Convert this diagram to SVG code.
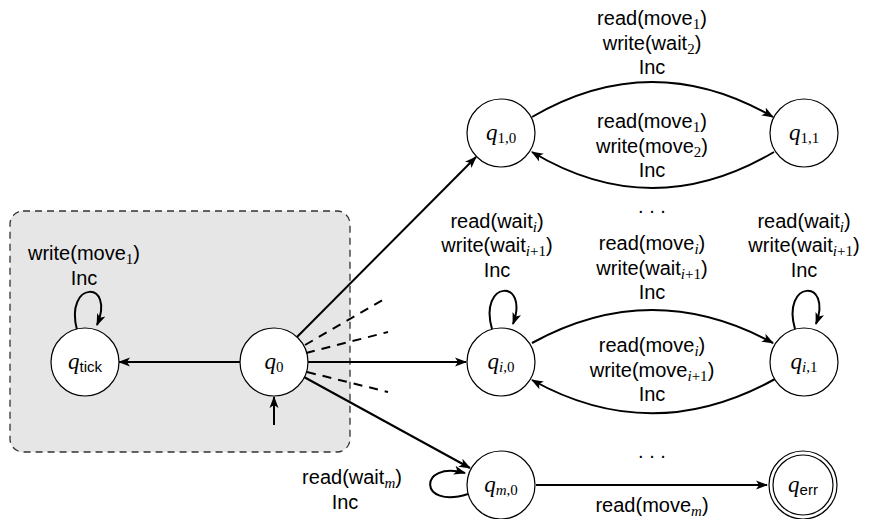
<svg xmlns="http://www.w3.org/2000/svg" width="870" height="519" viewBox="0 0 870 519">
<defs>
<marker id="ah" viewBox="0 0 12 10" refX="11" refY="5" markerWidth="12" markerHeight="10" markerUnits="userSpaceOnUse" orient="auto">
<path d="M0,0.5 L12,5 L0,9.5 L3,5 z" fill="#000"/>
</marker>
<style>
.st{fill:#fff;stroke:#000;stroke-width:1.2}
.ed{fill:none;stroke:#000;stroke-width:2;marker-end:url(#ah)}
.dash{fill:none;stroke:#000;stroke-width:2;stroke-dasharray:9,7}
.lb{font-family:"Liberation Sans",Arial,sans-serif;font-size:20px;text-anchor:middle;fill:#000}
.q{font-family:"Liberation Serif","Times New Roman",serif;font-size:23px;font-style:italic;text-anchor:middle;fill:#000}
.sn{font-family:"Liberation Serif",serif;font-style:normal}
.si{font-family:"Liberation Serif",serif;font-style:italic}
.ss{font-family:"Liberation Sans",sans-serif;font-style:normal}
</style>
</defs>
<rect x="10" y="211" width="340" height="241" rx="13" fill="#e6e6e6" stroke="#333" stroke-width="1.3" stroke-dasharray="7,5"/>
<g id="connectors">
<path class="ed" d="M240,362 L119,362"/>
<path class="ed" d="M274,425 L274,397"/>
<path class="ed" d="M297,337 L476,157"/>
<path class="ed" d="M308,362 L466,362"/>
<path class="ed" d="M304,377 L470,468"/>
<path class="dash" d="M305,345 L388,297"/>
<path class="dash" d="M306,353 L388,332"/>
<path class="dash" d="M307,372 L388,392"/>
<path class="ed" d="M77,330 C64,280 116,280 97,325"/>
<path class="ed" d="M532,117 Q652,47 773,117"/>
<path class="ed" d="M774,152 Q652,224 532,152"/>
<path class="ed" d="M492,329 C478,280 530,278 513,324"/>
<path class="ed" d="M795,329 C781,280 833,278 816,324"/>
<path class="ed" d="M532,343 Q652,277 773,343"/>
<path class="ed" d="M775,379 Q652,447 532,380"/>
<path class="ed" d="M468,494 C418,510 418,460 465,473"/>
<path class="ed" d="M536,485 L767,485"/>
</g>
<g id="q_tick"><circle class="st" cx="85" cy="362" r="34"/><text class="q" x="85" y="369">q<tspan class="ss" font-size="15" dy="3">tick</tspan></text></g>
<g id="q0"><circle class="st" cx="274" cy="362" r="34"/><text class="q" x="274" y="369">q<tspan class="sn" font-size="15" dy="3">0</tspan></text></g>
<g id="q10"><circle class="st" cx="501" cy="133" r="34"/><text class="q" x="501" y="140">q<tspan class="sn" font-size="15" dy="3">1,0</tspan></text></g>
<g id="q11"><circle class="st" cx="804" cy="133" r="34"/><text class="q" x="804" y="140">q<tspan class="sn" font-size="15" dy="3">1,1</tspan></text></g>
<g id="qi0"><circle class="st" cx="501" cy="362" r="34"/><text class="q" x="501" y="369">q<tspan class="si" font-size="15" dy="3">i</tspan><tspan class="sn" font-size="15">,0</tspan></text></g>
<g id="qi1"><circle class="st" cx="804" cy="362" r="34"/><text class="q" x="804" y="369">q<tspan class="si" font-size="15" dy="3">i</tspan><tspan class="sn" font-size="15">,1</tspan></text></g>
<g id="qm0"><circle class="st" cx="501" cy="485" r="34"/><text class="q" x="501" y="492">q<tspan class="si" font-size="15" dy="3">m</tspan><tspan class="sn" font-size="15">,0</tspan></text></g>
<g id="qerr"><circle class="st" cx="803" cy="485" r="34"/><circle cx="803" cy="485" r="30" fill="none" stroke="#000" stroke-width="1.2"/><text class="q" x="803" y="492">q<tspan class="ss" font-size="15" dy="3">err</tspan></text></g>
<g id="labels">
<text class="lb" x="84" y="260">write(move<tspan font-size="15" class="sn" dy="4">1</tspan><tspan dy="-4">)</tspan></text>
<text class="lb" x="84" y="285">Inc</text>
<text class="lb" x="652" y="25">read(move<tspan font-size="15" class="sn" dy="4">1</tspan><tspan dy="-4">)</tspan></text>
<text class="lb" x="652" y="50">write(wait<tspan font-size="15" class="sn" dy="4">2</tspan><tspan dy="-4">)</tspan></text>
<text class="lb" x="652" y="74">Inc</text>
<text class="lb" x="652" y="128">read(move<tspan font-size="15" class="sn" dy="4">1</tspan><tspan dy="-4">)</tspan></text>
<text class="lb" x="652" y="153">write(move<tspan font-size="15" class="sn" dy="4">2</tspan><tspan dy="-4">)</tspan></text>
<text class="lb" x="652" y="177">Inc</text>
<text class="lb" x="652" y="213">. . .</text>
<text class="lb" x="497" y="228">read(wait<tspan font-size="15" class="si" dy="4">i</tspan><tspan dy="-4">)</tspan></text>
<text class="lb" x="497" y="252">write(wait<tspan font-size="15" class="si" dy="4">i</tspan><tspan font-size="15" class="sn">+1</tspan><tspan dy="-4">)</tspan></text>
<text class="lb" x="497" y="277">Inc</text>
<text class="lb" x="652" y="250">read(move<tspan font-size="15" class="si" dy="4">i</tspan><tspan dy="-4">)</tspan></text>
<text class="lb" x="652" y="275">write(wait<tspan font-size="15" class="si" dy="4">i</tspan><tspan font-size="15" class="sn">+1</tspan><tspan dy="-4">)</tspan></text>
<text class="lb" x="652" y="299">Inc</text>
<text class="lb" x="804" y="228">read(wait<tspan font-size="15" class="si" dy="4">i</tspan><tspan dy="-4">)</tspan></text>
<text class="lb" x="804" y="252">write(wait<tspan font-size="15" class="si" dy="4">i</tspan><tspan font-size="15" class="sn">+1</tspan><tspan dy="-4">)</tspan></text>
<text class="lb" x="804" y="277">Inc</text>
<text class="lb" x="652" y="352">read(move<tspan font-size="15" class="si" dy="4">i</tspan><tspan dy="-4">)</tspan></text>
<text class="lb" x="652" y="377">write(move<tspan font-size="15" class="si" dy="4">i</tspan><tspan font-size="15" class="sn">+1</tspan><tspan dy="-4">)</tspan></text>
<text class="lb" x="652" y="401">Inc</text>
<text class="lb" x="652" y="458">. . .</text>
<text class="lb" x="352" y="484">read(wait<tspan font-size="15" class="si" dy="4">m</tspan><tspan dy="-4">)</tspan></text>
<text class="lb" x="345" y="509">Inc</text>
<text class="lb" x="652" y="512">read(move<tspan font-size="15" class="si" dy="4">m</tspan><tspan dy="-4">)</tspan></text>
</g>
</svg>
